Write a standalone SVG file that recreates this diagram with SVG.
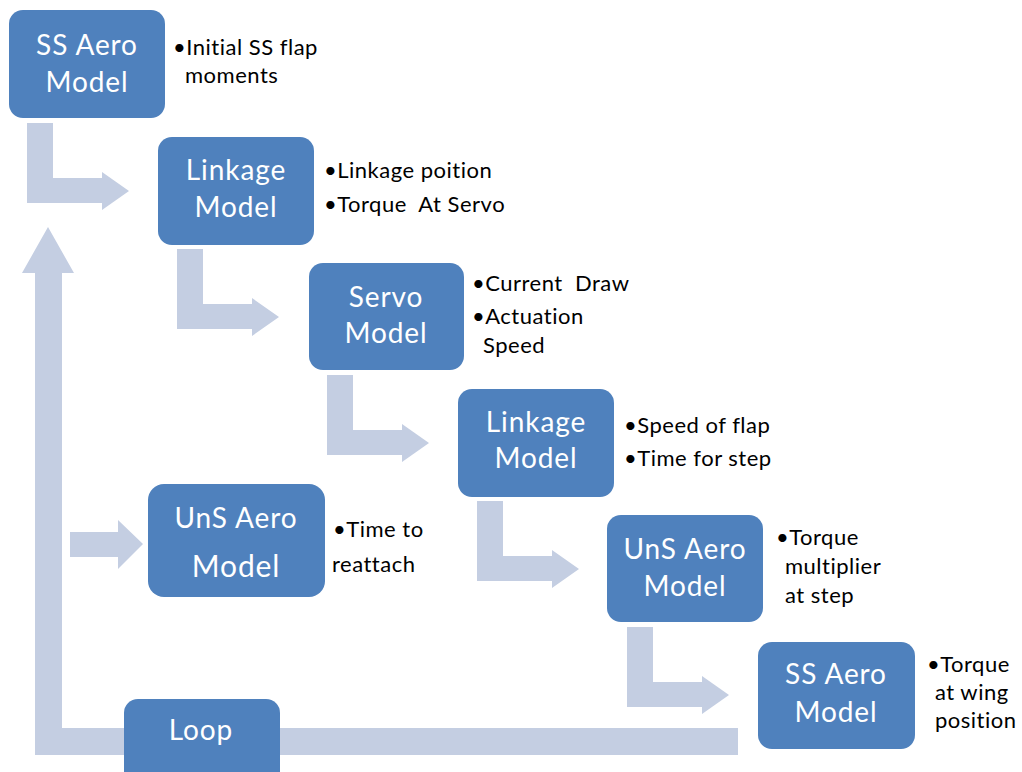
<svg xmlns="http://www.w3.org/2000/svg" xmlns:xlink="http://www.w3.org/1999/xlink" width="1022" height="772" viewBox="0 0 1022 772">
<style>
.box{fill:#4f81bd;}
.bt{font-family:Lato,"Liberation Sans",sans-serif;font-size:28px;letter-spacing:0.9px;fill:#ffffff;text-anchor:middle;}
.nt{font-family:Lato,"Liberation Sans",sans-serif;font-size:22px;letter-spacing:0.5px;fill:#000000;white-space:pre;}
.conn{fill:#c4cee2;}
</style>
<defs>
<path id="bend" d="M27,123 H53 V178 H102 V172 L129,191 L102,210 V203 H27 Z"/>
</defs>
<rect width="1022" height="772" fill="#ffffff"/>
<g id="connectors" class="conn">
<use xlink:href="#bend"/>
<use xlink:href="#bend" transform="translate(150,126)"/>
<use xlink:href="#bend" transform="translate(300,252)"/>
<use xlink:href="#bend" transform="translate(450,378)"/>
<use xlink:href="#bend" transform="translate(600,504)"/>
<path d="M738,728 V755 H35 V273 H22 L48,227 L74,273 H62 V728 Z"/>
<path d="M70,532 H118 V520 L143,544 L118,569 V557 H70 Z"/>
</g>
<g id="ss-aero-1">
<rect class="box" x="9" y="10" width="156" height="108" rx="14"/>
<text class="bt" x="87" y="55">SS Aero</text>
<text class="bt" x="87" y="92">Model</text>
<text class="nt" x="173" y="55">•Initial SS flap</text>
<text class="nt" x="185" y="83">moments</text>
</g>
<g id="linkage-1">
<rect class="box" x="158" y="137" width="156" height="108" rx="14"/>
<text class="bt" x="236" y="180">Linkage</text>
<text class="bt" x="236" y="217">Model</text>
<text class="nt" x="324" y="178">•Linkage poition</text>
<text class="nt" x="324" y="212">•Torque  At Servo</text>
</g>
<g id="servo">
<rect class="box" x="309" y="263" width="155" height="107" rx="14"/>
<text class="bt" x="386" y="307">Servo</text>
<text class="bt" x="386" y="343">Model</text>
<text class="nt" x="472" y="291">•Current  Draw</text>
<text class="nt" x="472" y="324">•Actuation</text>
<text class="nt" x="483" y="353">Speed</text>
</g>
<g id="linkage-2">
<rect class="box" x="458" y="389" width="156" height="108" rx="14"/>
<text class="bt" x="536" y="432">Linkage</text>
<text class="bt" x="536" y="468">Model</text>
<text class="nt" x="624" y="433">•Speed of flap</text>
<text class="nt" x="624" y="466">•Time for step</text>
</g>
<g id="uns-aero-1">
<rect class="box" x="148" y="484" width="177" height="113" rx="16"/>
<text class="bt" x="236" y="528">UnS Aero</text>
<text class="bt" x="236" y="577" style="font-size:30px">Model</text>
<text class="nt" x="333" y="537">•Time to</text>
<text class="nt" x="332" y="572">reattach</text>
</g>
<g id="uns-aero-2">
<rect class="box" x="607" y="515" width="156" height="107" rx="14"/>
<text class="bt" x="685" y="559">UnS Aero</text>
<text class="bt" x="685" y="596">Model</text>
<text class="nt" x="776" y="545">•Torque</text>
<text class="nt" x="785" y="574">multiplier</text>
<text class="nt" x="785" y="603">at step</text>
</g>
<g id="ss-aero-2">
<rect class="box" x="758" y="642" width="157" height="107" rx="14"/>
<text class="bt" x="836" y="684">SS Aero</text>
<text class="bt" x="836" y="722">Model</text>
<text class="nt" x="927" y="672">•Torque</text>
<text class="nt" x="935" y="700">at wing</text>
<text class="nt" x="935" y="728">position</text>
</g>
<g id="loop">
<rect class="box" x="124" y="699" width="156" height="95" rx="14"/>
<text class="bt" x="201" y="740">Loop</text>
</g>
</svg>
